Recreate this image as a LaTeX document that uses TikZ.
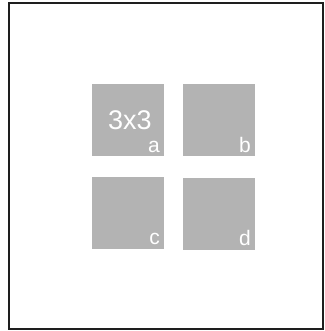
\documentclass[tikz,border=0pt]{standalone}
\usepackage{fontspec}
\setmainfont{Liberation Sans}
\begin{document}
\begin{tikzpicture}[x=1pt,y=-1pt,
  tile/.style={fill=tilegray,draw=none,minimum size=72pt,inner sep=0pt,outer sep=0pt},
  lbl/.style={text=white,font=\fontsize{21}{21}\selectfont,inner sep=0pt,anchor=base east},
  big/.style={text=white,font=\fontsize{27}{27}\selectfont,inner sep=0pt,anchor=base}]
\definecolor{tilegray}{HTML}{B3B3B3}
\definecolor{framegray}{HTML}{1E1E1E}
\useasboundingbox[fill=white] (0,0) rectangle (324,331);
\draw[framegray,line width=2pt] (9.4,3.4) rectangle (322.6,329);
\node[tile] (a) at (128,120) {};
\node[tile] (b) at (219,120) {};
\node[tile] (c) at (128,213) {};
\node[tile] (d) at (219,214) {};
\node[big] (t) at (130,129) {3x3};
\node[lbl] (la) at ([xshift=-4pt,yshift=4pt]a.south east) {a};
\node[lbl] (lb) at ([xshift=-4pt,yshift=4pt]b.south east) {b};
\node[lbl] (lc) at ([xshift=-4pt,yshift=4.5pt]c.south east) {c};
\node[lbl] (ld) at ([xshift=-4pt,yshift=5pt]d.south east) {d};
\end{tikzpicture}
\end{document}
